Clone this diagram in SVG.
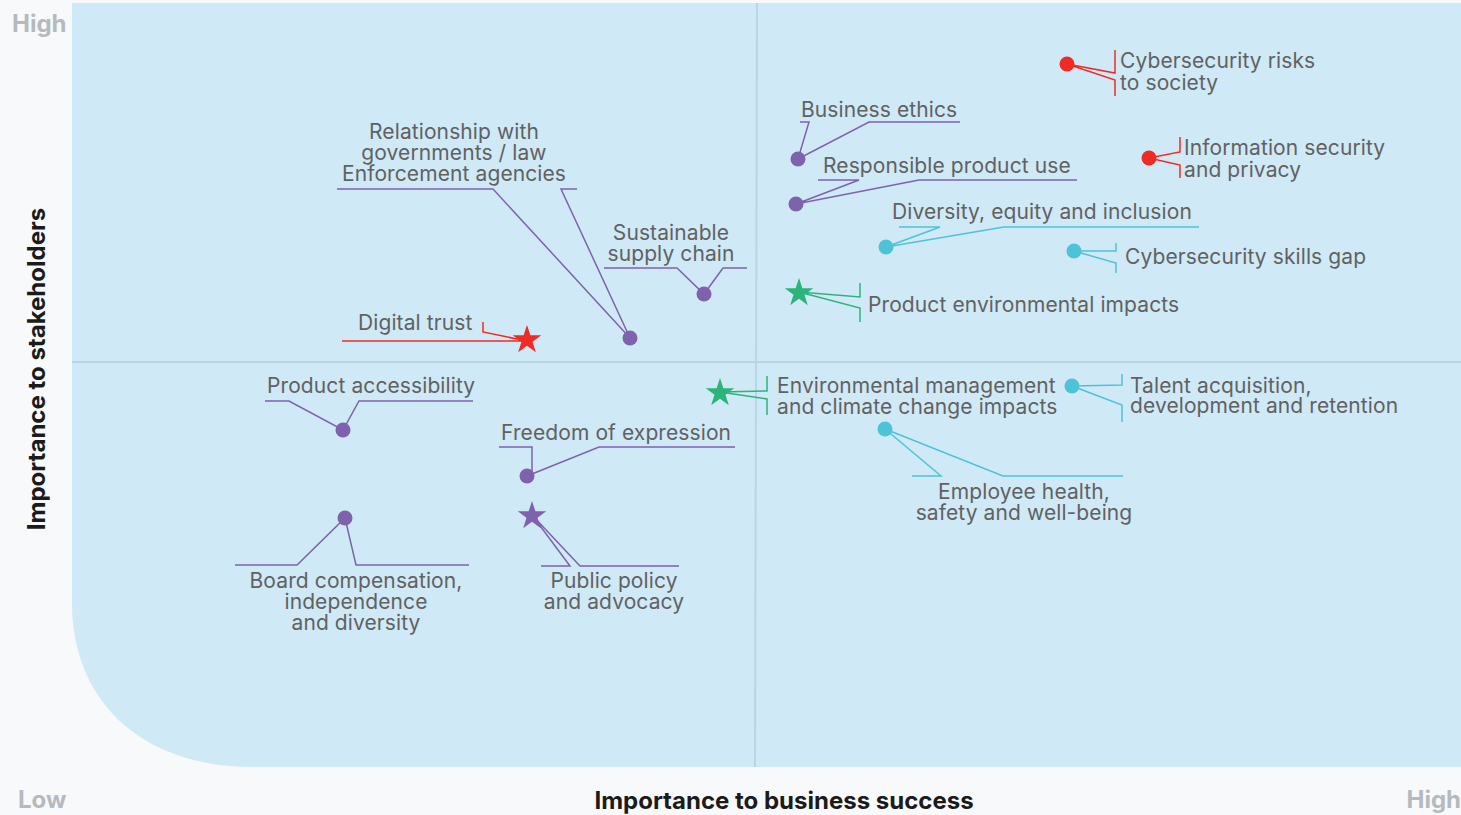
<svg xmlns="http://www.w3.org/2000/svg" xmlns:xlink="http://www.w3.org/1999/xlink" width="1461" height="815" viewBox="0 0 1461 815">
<style>
.lbl{font-family:Inter,"Noto Sans","Liberation Sans",sans-serif;font-size:21px;letter-spacing:0.1px;fill:#616161;}
.mid{text-anchor:middle;}
.ax{font-family:Inter,"Liberation Sans",sans-serif;font-size:24px;font-weight:700;}
.axg{fill:#b6b9be;}
.axb{fill:#1b1b1b;}
.ld{fill:none;stroke-width:1.5;stroke-linejoin:miter;}
.pu{stroke:#7e62ae;} .re{stroke:#ee2b24;} .cy{stroke:#4ec3d8;} .gr{stroke:#2db47b;}
.fpu{fill:#7e62ae;} .fre{fill:#ee2b24;} .fcy{fill:#4ec3d8;} .fgr{fill:#2db47b;}
</style>
<defs>
<path id="star" d="M0,-15 L3.4,-4.68 L14.27,-4.64 L5.51,1.79 L8.82,12.14 L0,5.79 L-8.82,12.14 L-5.51,1.79 L-14.27,-4.64 L-3.4,-4.68 Z"/>
</defs>
<rect x="0" y="0" width="1461" height="815" fill="#f8f9fb"/>
<g id="plot">
<path d="M72,3 H1461 V767 H253 C140,767 72,700 72,603 Z" fill="#cfe9f7"/>
<line x1="757" y1="3" x2="755" y2="767" stroke="#b9d6e6" stroke-width="2"/>
<line x1="72" y1="362" x2="1461" y2="362" stroke="#b9d6e6" stroke-width="2"/>
</g>
<g id="axes">
<text class="ax axg" x="12" y="32">High</text>
<text class="ax axg" x="18" y="808">Low</text>
<text class="ax axg" x="1461" y="808" text-anchor="end">High</text>
<text class="ax axb" x="784" y="809" text-anchor="middle">Importance to business success</text>
<text class="ax axb" x="0" y="0" text-anchor="middle" transform="translate(45,369) rotate(-90)">Importance to stakeholders</text>
</g>
<g id="connectors">
<polyline class="ld re" points="1115,50 1115,73 1067,64 1115,80 1115,96"/>
<polyline class="ld pu" points="800,122 809,122 798,159 869,122 960,122"/>
<polyline class="ld pu" points="818,180 859,180 796,204 919,180 1077,180"/>
<polyline class="ld re" points="1180,137 1180,152 1149,158 1180,165 1180,178"/>
<polyline class="ld cy" points="899,227 940,227 886,247 1004,227 1199,227"/>
<polyline class="ld cy" points="1116,243 1116,251 1074,251 1116,263 1116,273"/>
<polyline class="ld gr" points="860,283 860,297 799,292 860,308 860,322"/>
<polyline class="ld pu" points="337,189 493,189 630,338 561,189 577,189"/>
<polyline class="ld pu" points="604,268 677,268 704,294 723,268 747,268"/>
<polyline class="ld re" points="483,322 483,332 527,341 342,341"/>
<polyline class="ld pu" points="265,401 289,401 343,430 359,401 473,401"/>
<polyline class="ld pu" points="499,447 532,447 532,473 527,476 599,447 735,447"/>
<polyline class="ld pu" points="235,565 297,565 345,518 356,565 469,565"/>
<polyline class="ld pu" points="541,566 570,566 532,515 580,566 679,566"/>
<polyline class="ld gr" points="767,376 767,391 720,392 767,399 767,415"/>
<polyline class="ld cy" points="1122,374 1122,385 1072,386 1122,405 1122,422"/>
<polyline class="ld cy" points="912,476 941,476 885,429 1003,476 1123,476"/>
</g>
<g id="n-cyber-risks"><circle class="fre" cx="1067" cy="64" r="7.5"/><text class="lbl" x="1120" y="68">Cybersecurity risks</text><text class="lbl" x="1120" y="90">to society</text></g>
<g id="n-business-ethics"><circle class="fpu" cx="798" cy="159" r="7.5"/><text class="lbl" x="801" y="117">Business ethics</text></g>
<g id="n-responsible-use"><circle class="fpu" cx="796" cy="204" r="7.5"/><text class="lbl" x="823" y="173">Responsible product use</text></g>
<g id="n-info-security"><circle class="fre" cx="1149" cy="158" r="7.5"/><text class="lbl" x="1184" y="155">Information security</text><text class="lbl" x="1184" y="177">and privacy</text></g>
<g id="n-dei"><circle class="fcy" cx="886" cy="247" r="7.5"/><text class="lbl" x="892" y="219">Diversity, equity and inclusion</text></g>
<g id="n-skills-gap"><circle class="fcy" cx="1074" cy="251" r="7.5"/><text class="lbl" x="1125" y="264">Cybersecurity skills gap</text></g>
<g id="n-product-env"><use xlink:href="#star" href="#star" x="799" y="293" class="fgr"/><text class="lbl" x="868" y="312">Product environmental impacts</text></g>
<g id="n-gov-relations"><circle class="fpu" cx="630" cy="338" r="7.5"/><text class="lbl mid" x="454" y="139">Relationship with</text><text class="lbl mid" x="454" y="160">governments / law</text><text class="lbl mid" x="454" y="181">Enforcement agencies</text></g>
<g id="n-supply-chain"><circle class="fpu" cx="704" cy="294" r="7.5"/><text class="lbl mid" x="671" y="240">Sustainable</text><text class="lbl mid" x="671" y="261">supply chain</text></g>
<g id="n-digital-trust"><use xlink:href="#star" href="#star" x="527" y="340" class="fre"/><text class="lbl" x="358" y="330">Digital trust</text></g>
<g id="n-accessibility"><circle class="fpu" cx="343" cy="430" r="7.5"/><text class="lbl" x="267" y="393">Product accessibility</text></g>
<g id="n-freedom"><circle class="fpu" cx="527" cy="476" r="7.5"/><text class="lbl" x="501" y="440">Freedom of expression</text></g>
<g id="n-board"><circle class="fpu" cx="345" cy="518" r="7.5"/><text class="lbl mid" x="356" y="588">Board compensation,</text><text class="lbl mid" x="356" y="609">independence</text><text class="lbl mid" x="356" y="630">and diversity</text></g>
<g id="n-public-policy"><use xlink:href="#star" href="#star" x="532" y="516" class="fpu"/><text class="lbl mid" x="614" y="588">Public policy</text><text class="lbl mid" x="614" y="609">and advocacy</text></g>
<g id="n-env-mgmt"><use xlink:href="#star" href="#star" x="720" y="393" class="fgr"/><text class="lbl" x="777" y="393">Environmental management</text><text class="lbl" x="777" y="414">and climate change impacts</text></g>
<g id="n-talent"><circle class="fcy" cx="1072" cy="386" r="7.5"/><text class="lbl" x="1130" y="393">Talent acquisition,</text><text class="lbl" x="1130" y="413">development and retention</text></g>
<g id="n-employee-health"><circle class="fcy" cx="885" cy="429" r="7.5"/><text class="lbl mid" x="1024" y="499">Employee health,</text><text class="lbl mid" x="1024" y="520">safety and well-being</text></g>
</svg>
